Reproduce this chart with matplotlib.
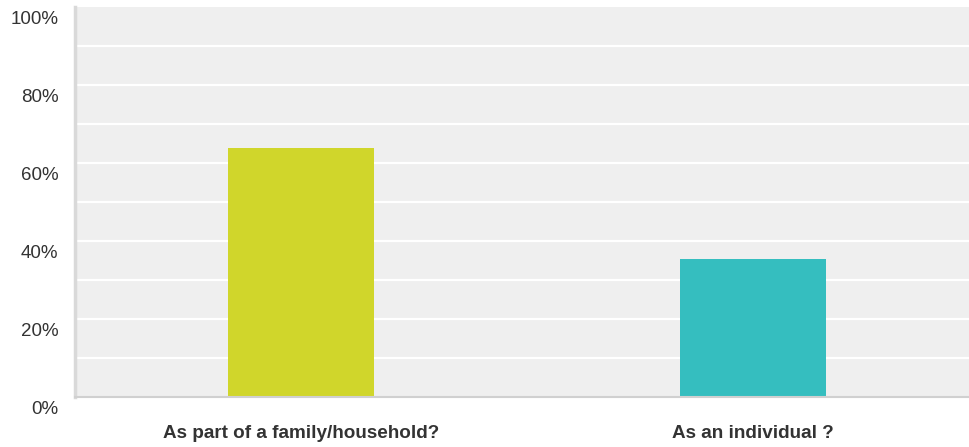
import matplotlib
matplotlib.use("Agg")
import matplotlib.pyplot as plt
import matplotlib.transforms as mtransforms

categories = ["As part of a family/household?", "As an individual ?"]
values = [63.9, 35.4]
colors = ["#d0d62b", "#35bebf"]
yticks = [0, 20, 40, 60, 80, 100]
ytick_labels = ["0%", "20%", "40%", "60%", "80%", "100%"]
grid_vals = [10, 20, 30, 40, 50, 60, 70, 80, 90]

W, H = 969, 447
fig = plt.figure(figsize=(W / 100, H / 100), dpi=100)
left, right, top, bottom = 75, 969, 7, 397
ax = fig.add_axes([left / W, 1 - bottom / H, (right - left) / W, (bottom - top) / H])
ax.set_facecolor("#efefef")

for g in grid_vals:
    ax.axhline(g, color="white", lw=1.6, zorder=1)

x = list(range(len(categories)))
ax.bar(x, values, width=0.323, color=colors, zorder=2)

ax.set_xlim(-0.5, -0.5 + (right - left) / 452)
ax.set_ylim(0, 100)

ax.set_yticks(yticks)
ax.set_yticklabels(ytick_labels, fontsize=13.5, color="#333333", family="Liberation Sans")
ax.tick_params(axis="y", length=0, pad=12)
offset = mtransforms.ScaledTranslation(0, -11 / 100, fig.dpi_scale_trans)
for lbl in ax.get_yticklabels():
    lbl.set_transform(lbl.get_transform() + offset)

ax.set_xticks(x)
ax.set_xticklabels(categories, fontsize=13.6, fontweight="bold", color="#333333", family="Liberation Sans")
ax.tick_params(axis="x", length=0, pad=20)

for s in ["top", "right"]:
    ax.spines[s].set_visible(False)
ax.spines["left"].set_color("#d9d9d9")
ax.spines["left"].set_linewidth(2.5)
ax.spines["bottom"].set_color("#d0d0d0")
ax.spines["bottom"].set_linewidth(1.5)

fig.savefig("out.png", dpi=100)
